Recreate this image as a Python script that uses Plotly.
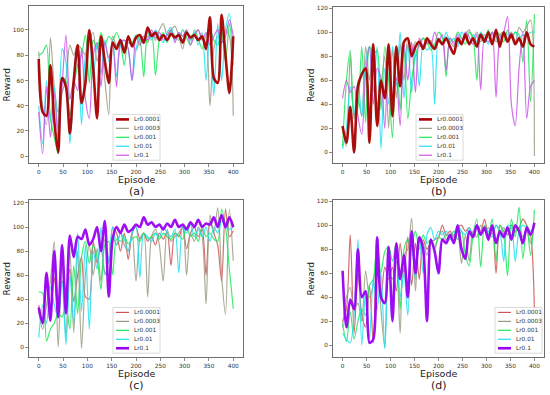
import plotly.graph_objects as go

episodes = list(range(0, 401, 8))
labels = ["Lr0.0001", "Lr0.0003", "Lr0.001", "Lr0.01", "Lr0.1"]
panel_names = ["(a)", "(b)", "(c)", "(d)"]

# ---- panel (a) ----
a_lr0001 = [77, 35, 32, 72, 28, 3, 62, 55, 18, 60, 88, 42, 58, 100, 70, 30, 95, 75, 58, 90, 85, 92, 82, 95, 87,
            94, 96, 90, 102, 95, 98, 92, 96, 92, 97, 94, 96, 90, 98, 94, 96, 92, 95, 85, 110, 62, 58, 112, 80, 50, 95]
a_lr0003 = [83, 40, 25, 94, 55, 35, 50, 62, 88, 80, 88, 85, 80, 92, 98, 75, 90, 60, 33, 95, 88, 92, 86, 90, 88, 84,
            92, 95, 90, 98, 92, 100, 105, 96, 100, 103, 95, 85, 98, 92, 97, 100, 93, 90, 40, 85, 95, 90, 100, 95, 32]
a_lr001 = [80, 82, 88, 30, 15, 2, 62, 60, 32, 55, 72, 80, 96, 58, 92, 85, 98, 88, 95, 92, 98, 90, 72, 95, 90, 96,
           92, 63, 95, 96, 64, 92, 98, 90, 100, 95, 92, 100, 94, 88, 100, 93, 85, 96, 100, 92, 88, 100, 75, 105, 72]
a_lr01 = [40, 10, 60, 30, 55, 20, 85, 75, 10, 55, 82, 25, 80, 92, 62, 90, 65, 92, 75, 92, 63, 88, 92, 85, 60, 85,
          95, 90, 98, 92, 100, 95, 90, 98, 102, 92, 98, 95, 100, 92, 98, 88, 98, 60, 100, 48, 105, 60, 100, 113, 78]
a_lr1 = [35, 2, 55, 15, 50, 12, 55, 96, 45, 60, 52, 85, 45, 30, 80, 90, 55, 90, 78, 88, 55, 90, 92, 85, 60, 95,
         88, 95, 92, 100, 94, 98, 92, 96, 100, 90, 98, 95, 100, 88, 95, 100, 92, 98, 88, 95, 100, 90, 95, 108, 95]

# ---- panel (b) ----
b_lr0001 = [22, 8, 38, 0, 55, 65, 70, 8, 90, 22, 60, 45, 90, 30, 88, 55, 92, 95, 80, 88, 92, 86, 95, 90, 86, 94,
            90, 95, 88, 82, 95, 90, 98, 90, 95, 88, 98, 92, 100, 90, 102, 88, 100, 92, 98, 90, 95, 88, 100, 90, 88]
b_lr0003 = [20, 5, 82, 30, 45, 30, 88, 60, 90, 40, 55, 80, 20, 85, 45, 90, 60, 95, 85, 92, 88, 95, 90, 93, 88, 95,
            90, 96, 92, 88, 95, 90, 98, 102, 95, 100, 92, 98, 95, 100, 92, 98, 100, 95, 100, 92, 104, 100, 105, 110, -3]
b_lr001 = [5, 60, 85, 28, 38, 88, 25, 88, 82, 85, 35, 88, 60, 12, 88, 35, 88, 28, 60, 80, 90, 95, 92, 85, 90, 100,
           95, 63, 95, 92, 100, 95, 90, 100, 95, 60, 98, 95, 102, 90, 100, 98, 92, 102, 95, 100, 98, 75, 110, 42, 115]
b_lr01 = [3, 20, 55, 32, 60, 30, 75, 88, 50, 88, 3, 70, 40, 88, 55, 100, 45, 90, 50, 88, 55, 90, 85, 88, 40, 95,
          90, 100, 92, 95, 88, 100, 95, 90, 98, 92, 100, 95, 90, 100, 96, 90, 100, 98, 96, 100, 95, 98, 97, 100, 100]
b_lr1 = [45, 60, 50, 55, 30, 15, 65, 88, 40, 70, 62, 20, 85, 45, 62, 22, 90, 60, 92, 50, 95, 88, 92, 90, 100, 92,
         98, 68, 95, 90, 98, 92, 100, 96, 90, 98, 52, 95, 92, 100, 46, 95, 100, 113, 40, 22, 70, 100, 28, 55, 60]

# ---- panel (c) ----
c_lr0001 = [35, 20, 60, 30, 58, 30, 55, 48, 65, 38, 60, 75, 42, 40, 88, 70, 85, 62, 60, 100, 95, 80, 95, 73, 95, 100,
            90, 95, 88, 92, 85, 95, 90, 96, 68, 95, 92, 100, 82, 95, 100, 92, 98, 60, 105, 95, 85, 55, 115, 92, 97]
c_lr0003 = [30, 15, 35, 55, 88, 0, 70, 8, 82, 12, 80, -1, 60, 85, 60, 82, 55, 90, 70, 92, 85, 95, 85, 80, 95, 55,
            90, 95, 42, 92, 98, 85, 55, 98, 88, 92, 95, 100, 60, 95, 88, 100, 92, 36, 110, 95, 116, 60, 27, 115, 72]
c_lr001 = [46, 45, 5, 15, 20, 28, 25, 35, 15, 68, 28, 75, 88, 70, 85, 75, 48, 85, 88, 60, 90, 88, 92, 86, 90, 92,
           88, 95, 90, 92, 95, 90, 95, 92, 90, 95, 93, 90, 100, 92, 95, 88, 100, 92, 95, 90, 88, 115, 100, 65, 32]
c_lr01 = [8, 35, 20, 50, 35, 25, 55, 2, 60, 20, 95, 30, 85, 15, 80, 65, 100, 60, 75, 100, 85, 95, 90, 80, 95, 100,
          58, 95, 92, 88, 95, 92, 100, 95, 92, 98, 62, 100, 95, 102, 92, 98, 92, 100, 88, 100, 95, 105, 100, 98, 100]
c_lr1 = [33, 20, 62, 22, 80, 25, 85, 28, 93, 75, 92, 90, 98, 85, 90, 100, 80, 105, 42, 90, 100, 95, 102, 96, 98, 102,
         100, 108, 102, 104, 100, 102, 98, 103, 100, 106, 100, 102, 98, 104, 100, 106, 100, 103, 102, 108, 100, 110, 100, 108, 100]

# ---- panel (d) ----
d_lr0001 = [20, 30, 92, 10, 60, 25, 15, 50, 2, 88, 40, 65, 55, 65, 45, 85, 60, 90, 50, 85, 55, 88, 80, 85, 88, 90,
            100, 92, 95, 90, 98, 100, 95, 98, 92, 100, 95, 105, 92, 98, 60, 100, 95, 92, 100, 95, 98, 105, 100, 92, 30]
d_lr0003 = [15, 40, 48, 30, 35, 20, 62, 40, 50, 85, 30, -2, 60, 55, 70, 10, 75, 80, 106, 45, 90, 85, 75, 88, 80, 90,
            95, 88, 92, 85, 95, 68, 92, 70, 95, 90, 100, 95, 98, 92, 100, 95, 98, 92, 100, 94, 98, 90, 95, 85, 100]
d_lr001 = [18, 3, 28, 5, 20, 30, 25, 50, 55, 88, 60, 78, 82, 70, 85, 30, 80, 88, 85, 95, 80, 92, 85, 88, 82, 90,
           88, 92, 90, 95, 88, 95, 75, 66, 92, 105, 65, 100, 92, 105, 70, 100, 92, 58, 105, 90, 115, 72, 100, 75, 113]
d_lr01 = [10, 5, 2, 25, 88, 0, 45, 5, 55, 30, 60, -3, 70, 35, 80, 40, 60, 25, 85, 55, 90, 60, 92, 98, 88, 95,
          92, 95, 88, 92, 100, 95, 92, 98, 90, 100, 92, 98, 95, 90, 100, 95, 70, 100, 98, 70, 95, 100, 98, 95, 100]
d_lr1 = [62, 15, 38, 30, 80, 40, 45, 2, 5, 90, 40, 35, 82, 20, 85, 55, 75, 40, 95, 60, 90, 80, 20, 88, 78, 60,
         88, 85, 92, 85, 100, 80, 72, 95, 90, 100, 92, 98, 88, 100, 85, 95, 90, 98, 88, 100, 95, 85, 98, 92, 102]

panels = [
    [a_lr0001, a_lr0003, a_lr001, a_lr01, a_lr1],
    [b_lr0001, b_lr0003, b_lr001, b_lr01, b_lr1],
    [c_lr0001, c_lr0003, c_lr001, c_lr01, c_lr1],
    [d_lr0001, d_lr0003, d_lr001, d_lr01, d_lr1],
]
y_ticks = [[0, 20, 40, 60, 80, 100], [0, 20, 40, 60, 80, 100, 120],
           [0, 20, 40, 60, 80, 100, 120], [0, 20, 40, 60, 80, 100, 120]]
x_ticks = [0, 50, 100, 150, 200, 250, 300, 350, 400]

# ---- styling (not data) ----
W, H = 550, 395
colors_ab = ["#a80000", "#9c9c86", "#1ee85a", "#22e0f0", "#cc55e8"]
colors_cd = ["#cc5555", "#9c9c86", "#1ee85a", "#22e0f0", "#9a00f2"]
widths_ab = [2.6, 1.2, 1.2, 1.2, 1.2]
widths_cd = [1.2, 1.2, 1.2, 1.2, 2.6]
# plot-area boxes in pixels: left, right, top, bottom
boxes = [(29, 243, 4, 162), (333, 544, 5, 162), (29, 243, 199, 357), (333, 544, 199, 357)]
y_ranges = [[-5.5, 119], [-9, 121], [-8.3, 122.5], [-10, 121]]
legend_pos = [(113, 113), (416, 113), (113, 307), (495, 307)]  # left, top of legend box (px)
axis_col = "#6e6e6e"

def px(x):
    return x / W

def py(y):
    return 1 - y / H

fig = go.Figure()
layout = dict(width=W, height=H, margin=dict(l=0, r=0, t=0, b=0),
              paper_bgcolor="white", plot_bgcolor="white", showlegend=False,
              font=dict(family="DejaVu Sans", color="#333"))
annotations = []
shapes = []

for i, series in enumerate(panels):
    xa = "xaxis" if i == 0 else f"xaxis{i+1}"
    ya = "yaxis" if i == 0 else f"yaxis{i+1}"
    xr = "x" if i == 0 else f"x{i+1}"
    yr = "y" if i == 0 else f"y{i+1}"
    l, r, t, b = boxes[i]
    cols = colors_ab if i < 2 else colors_cd
    wids = widths_ab if i < 2 else widths_cd
    order = [1, 2, 3, 4, 0] if i < 2 else [0, 1, 2, 3, 4]
    if i == 1:
        order = [1, 3, 2, 4, 0]
    for k in order:
        fig.add_trace(go.Scatter(x=episodes, y=series[k], mode="lines", name=labels[k],
                                 line=dict(color=cols[k], width=wids[k], shape="spline", smoothing=0.8),
                                 opacity=0.95 if wids[k] > 2 else 0.85,
                                 xaxis=xr, yaxis=yr, hoverinfo="skip"))
    common = dict(showgrid=False, zeroline=False, showline=True, linecolor=axis_col, linewidth=1,
                  mirror=True, ticks="outside", ticklen=3, tickwidth=0.8, tickcolor=axis_col,
                  tickfont=dict(size=5.8, color="#333"))
    layout[xa] = dict(domain=[px(l), px(r)], range=[-20, 420], tickvals=x_ticks,
                      anchor=yr, **common)
    layout[ya] = dict(domain=[py(b), py(t)], range=y_ranges[i], tickvals=y_ticks[i],
                      anchor=xr, **common)
    cx = (l + r) / 2
    annotations.append(dict(text="Reward", x=px(l - 22), y=py((t + b) / 2), xref="paper", yref="paper",
                            textangle=-90, showarrow=False, font=dict(size=9, color="#222"),
                            xanchor="center", yanchor="middle"))
    annotations.append(dict(text="Episode", x=px(cx), y=py(b + 16), xref="paper", yref="paper",
                            showarrow=False, font=dict(size=9.5, color="#222"),
                            xanchor="center", yanchor="middle"))
    annotations.append(dict(text=panel_names[i], x=px(cx), y=py(b + 28), xref="paper", yref="paper",
                            showarrow=False, font=dict(size=11, color="#222"),
                            xanchor="center", yanchor="middle"))
    # legend box
    lx, ly = legend_pos[i]
    lw, lh = 47, 46
    shapes.append(dict(type="rect", xref="paper", yref="paper", x0=px(lx), x1=px(lx + lw),
                       y0=py(ly + lh), y1=py(ly), line=dict(color="#d0d0d0", width=0.8),
                       fillcolor="rgba(255,255,255,0.85)", layer="above"))
    for k, lab in enumerate(labels):
        yy = ly + 5 + k * 9
        shapes.append(dict(type="line", xref="paper", yref="paper", x0=px(lx + 3), x1=px(lx + 16),
                           y0=py(yy), y1=py(yy), line=dict(color=cols[k], width=wids[k]), layer="above"))
        annotations.append(dict(text=lab, x=px(lx + 19), y=py(yy), xref="paper", yref="paper",
                                showarrow=False, font=dict(size=5.8, color="#333"),
                                xanchor="left", yanchor="middle"))

layout["annotations"] = annotations
layout["shapes"] = shapes
fig.update_layout(**layout)
fig.write_html("out.html", config={"displayModeBar": False, "staticPlot": True},
               post_script="document.body.style.margin='0';document.body.style.overflow='hidden';")
